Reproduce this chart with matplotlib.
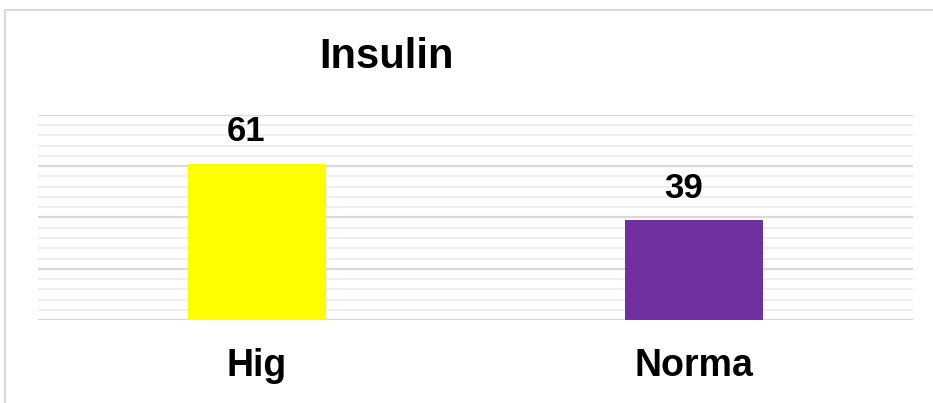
import numpy as np
import matplotlib.pyplot as plt
from matplotlib.patches import Rectangle

categories = ['Hig', 'Norma']
values = [61, 39]
colors = ['#FFFF00', '#7030A0']

plt.rcParams['font.family'] = ['Liberation Sans', 'DejaVu Sans']

fig = plt.figure(figsize=(9.33, 4.03), dpi=100)
W, H = 933, 403
ax = fig.add_axes([38 / W, (H - 320) / H, 875 / W, 205 / H])

x = np.arange(len(categories))
ax.bar(x, values, width=0.315, color=colors, zorder=3)
ax.set_xlim(-0.5, 1.5)
ax.set_ylim(0, 80)

# gridlines: major every 20, minor every 4
for v in np.arange(0, 81, 4):
    if v % 20 == 0:
        ax.axhline(v, color='#d9d9d9', lw=1.6, zorder=1)
    else:
        ax.axhline(v, color='#eeeeee', lw=1.4, zorder=1)

# value labels
for xi, v in zip(x, values):
    ax.annotate(str(v), (xi, v), xytext=(-8, 11), textcoords='offset points',
                ha='center', va='bottom', fontsize=25, fontweight='bold')

ax.set_xticks(x)
ax.set_xticklabels(categories, fontsize=27, fontweight='bold')
ax.tick_params(axis='x', length=0, pad=20)
ax.set_yticks([])
for s in ax.spines.values():
    s.set_visible(False)

fig.text(387 / W, 1 - 57 / H, 'Insulin', ha='center', va='center',
         fontsize=30, fontweight='bold')

# outer chart border
fig.patches.append(Rectangle((5 / W, -0.1), 1.2, 1 - 10 / H + 0.1,
                             transform=fig.transFigure, fill=False,
                             edgecolor='#d9d9d9', lw=1.5))

plt.savefig('out.png', dpi=100)
